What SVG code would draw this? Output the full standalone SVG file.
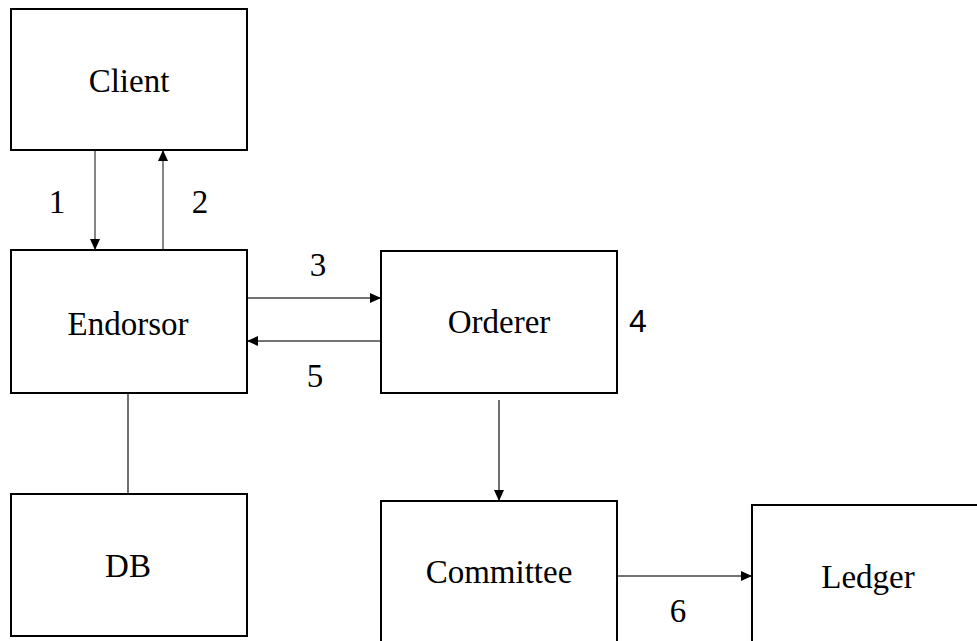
<svg xmlns="http://www.w3.org/2000/svg" width="977" height="641" viewBox="0 0 977 641">
  <style>
    .box { fill: #ffffff; stroke: #000000; stroke-width: 2; }
    .label, .num { font-family: "Liberation Serif", "Times New Roman", Tinos, "Noto Serif", "DejaVu Serif", serif; font-size: 33px; fill: #000000; text-anchor: middle; }
    .num-sans { font-family: "Liberation Sans", Arial, sans-serif; font-size: 32px; fill: #000000; text-anchor: middle; }
    .link { stroke: #444444; stroke-width: 1.3; fill: none; }
    .plain { stroke: #222222; stroke-width: 1.3; fill: none; }
  </style>
  <defs>
    <marker id="arrow" markerWidth="11" markerHeight="10" refX="11" refY="5" orient="auto" markerUnits="userSpaceOnUse">
      <path d="M0,0 L11,5 L0,10 Z" fill="#000000"/>
    </marker>
  </defs>
  <rect width="977" height="641" fill="#ffffff"/>

  <g id="connectors">
    <line class="link" x1="95" y1="150" x2="95" y2="250" marker-end="url(#arrow)"/>
    <line class="link" x1="163" y1="250" x2="163" y2="150" marker-end="url(#arrow)"/>
    <line class="link" x1="247" y1="298" x2="381" y2="298" marker-end="url(#arrow)"/>
    <line class="link" x1="381" y1="341" x2="247" y2="341" marker-end="url(#arrow)"/>
    <line class="plain" x1="128" y1="393" x2="128" y2="494"/>
    <line class="plain" x1="499" y1="400" x2="499" y2="501" marker-end="url(#arrow)"/>
    <line class="link" x1="617" y1="576" x2="752" y2="576" marker-end="url(#arrow)"/>
  </g>

  <g id="client">
    <rect class="box" x="11" y="9" width="236" height="141"/>
    <text class="label" x="129" y="92" font-family="Liberation Serif, serif">Client</text>
  </g>
  <g id="endorsor">
    <rect class="box" x="11" y="250" width="236" height="143"/>
    <text class="label" x="128" y="335">Endorsor</text>
  </g>
  <g id="db">
    <rect class="box" x="11" y="494" width="236" height="142"/>
    <text class="label" x="128" y="577">DB</text>
  </g>
  <g id="orderer">
    <rect class="box" x="381" y="251" width="236" height="142"/>
    <text class="label" x="499" y="333">Orderer</text>
  </g>
  <g id="committee">
    <rect class="box" x="381" y="501" width="236" height="150"/>
    <text class="label" x="499" y="583">Committee</text>
  </g>
  <g id="ledger">
    <rect class="box" x="752" y="505" width="240" height="150"/>
    <text class="label" x="868" y="588">Ledger</text>
  </g>

  <g id="step-labels">
    <text class="num" x="57" y="213">1</text>
    <text class="num" x="200" y="213">2</text>
    <text class="num" x="318" y="276">3</text>
    <text class="num-sans" x="638" y="332">4</text>
    <text class="num" x="315" y="387">5</text>
    <text class="num" x="678" y="622">6</text>
  </g>
</svg>
